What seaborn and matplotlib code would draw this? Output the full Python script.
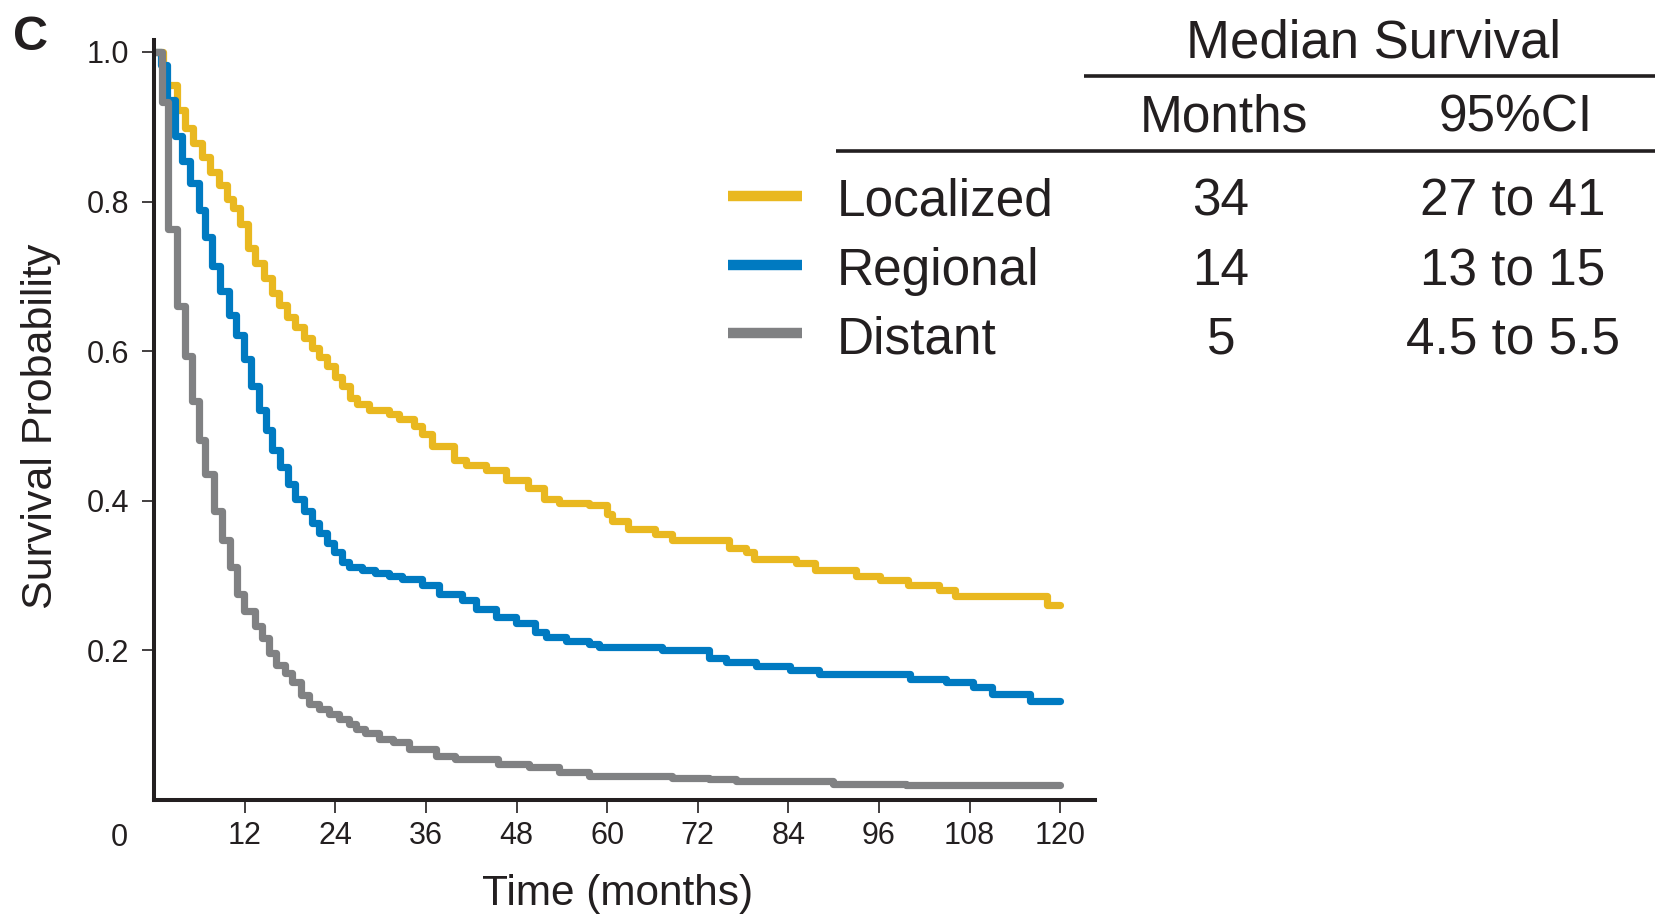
"""Kaplan-Meier survival by stage, with median survival table on the right."""

import numpy as np
import pandas as pd
import matplotlib
matplotlib.use("Agg")
import matplotlib.pyplot as plt
import seaborn as sns
from matplotlib import font_manager

# ---- data ----
groups = ["Localized", "Regional", "Distant"]
colors = ["#E9B820", "#007AC1", "#808183"]
median_months = ["34", "14", "5"]
median_ci = ["27 to 41", "13 to 15", "4.5 to 5.5"]

localized_t = [0, 1.2, 3.0, 4.1, 5.2, 6.3, 7.4, 8.6, 9.7, 10.5,
               11.4, 12.5, 13.4, 14.5, 15.6, 16.5, 17.6, 18.7, 19.8, 20.9,
               21.8, 22.9, 24.0, 24.9, 26.0, 26.9, 28.5, 31.1, 32.4, 34.4,
               35.5, 36.8, 39.7, 41.3, 43.9, 46.6, 49.5, 51.7, 53.6, 57.6,
               60.0, 60.7, 62.7, 66.4, 68.6, 76.2, 78.4, 79.5, 85.0, 87.5,
               93.0, 96.1, 99.8, 104.0, 106.0, 118.2, 120]
localized_s = [1.0, 0.956, 0.922, 0.898, 0.878, 0.859, 0.840, 0.822, 0.803, 0.792,
               0.770, 0.738, 0.718, 0.698, 0.678, 0.662, 0.646, 0.632, 0.617, 0.604,
               0.592, 0.580, 0.566, 0.553, 0.538, 0.530, 0.522, 0.516, 0.509, 0.500,
               0.489, 0.473, 0.455, 0.448, 0.441, 0.428, 0.417, 0.403, 0.397, 0.394,
               0.383, 0.373, 0.362, 0.356, 0.347, 0.337, 0.331, 0.322, 0.317, 0.307,
               0.300, 0.294, 0.287, 0.281, 0.273, 0.261, 0.261]

regional_t = [0, 0.9, 1.7, 2.8, 3.7, 4.8, 5.9, 6.8, 7.7, 8.8,
              9.9, 10.8, 11.9, 12.8, 13.9, 14.8, 15.6, 16.7, 17.8, 18.7,
              19.8, 20.9, 21.8, 22.9, 23.8, 24.9, 25.8, 27.6, 29.3, 31.1,
              32.9, 35.5, 37.7, 40.8, 42.6, 45.3, 47.9, 50.5, 51.9, 54.5,
              57.6, 58.9, 67.3, 73.5, 75.8, 79.7, 84.2, 88.1, 100.1, 104.9,
              108.5, 110.9, 116.0, 120]
regional_s = [1.0, 0.982, 0.936, 0.887, 0.854, 0.825, 0.789, 0.753, 0.714, 0.681,
              0.648, 0.622, 0.589, 0.553, 0.521, 0.494, 0.468, 0.445, 0.423, 0.403,
              0.387, 0.370, 0.357, 0.344, 0.331, 0.318, 0.311, 0.307, 0.303, 0.299,
              0.295, 0.288, 0.276, 0.267, 0.256, 0.245, 0.236, 0.224, 0.218, 0.213,
              0.209, 0.204, 0.200, 0.190, 0.185, 0.179, 0.174, 0.168, 0.162, 0.158,
              0.151, 0.142, 0.132, 0.132]

distant_t = [0, 1.0, 1.9, 3.0, 4.1, 5.0, 5.9, 6.8, 7.9, 9.0,
             10.1, 11.0, 11.9, 13.4, 14.3, 15.2, 16.1, 17.4, 18.3, 19.4,
             20.5, 21.8, 23.2, 24.5, 25.8, 26.7, 28.0, 29.8, 31.6, 33.8,
             37.3, 39.9, 45.6, 49.6, 53.6, 57.6, 68.6, 73.5, 77.1, 89.9,
             99.6, 120]
distant_s = [1.0, 0.933, 0.763, 0.661, 0.593, 0.534, 0.481, 0.436, 0.387, 0.347,
             0.311, 0.275, 0.252, 0.233, 0.216, 0.197, 0.180, 0.170, 0.158, 0.141,
             0.128, 0.122, 0.115, 0.108, 0.102, 0.095, 0.089, 0.082, 0.077, 0.068,
             0.059, 0.055, 0.048, 0.0435, 0.037, 0.032, 0.030, 0.0277, 0.0254, 0.0218,
             0.0197, 0.0197]

x_ticks = [12, 24, 36, 48, 60, 72, 84, 96, 108, 120]
y_ticks = [0.2, 0.4, 0.6, 0.8, 1.0]

# ---- fonts ----
sns.set_style("ticks")
installed = {f.name for f in font_manager.fontManager.ttflist}
NARROW = "Liberation Sans Narrow" if "Liberation Sans Narrow" in installed else None
REGULAR = "Liberation Sans"
plt.rcParams["font.family"] = [NARROW or REGULAR, "DejaVu Sans"]
TXT = "#231F20"

# sizes for axis text depend on whether the condensed face exists
TICK_FS = 24 if NARROW else 22
LABEL_FS = 35 if NARROW else 30.5

df = pd.concat([
    pd.DataFrame({"months": localized_t, "survival": localized_s, "stage": "Localized"}),
    pd.DataFrame({"months": regional_t, "survival": regional_s, "stage": "Regional"}),
    pd.DataFrame({"months": distant_t, "survival": distant_s, "stage": "Distant"}),
], ignore_index=True)

W, H = 1655, 914
fig = plt.figure(figsize=(W / 100, H / 100), dpi=100)
ax = fig.add_axes([154 / W, 1 - 800 / H, (1095 - 154) / W, (800 - 40) / H])

sns.lineplot(data=df, x="months", y="survival", hue="stage", hue_order=groups,
             palette=dict(zip(groups, colors)), estimator=None, sort=False,
             drawstyle="steps-post", linewidth=5.2, legend=False, ax=ax)

ax.set_xlim(0, 124.6)
ax.set_ylim(0, 1.016)
sns.despine(ax=ax)
for side in ["left", "bottom"]:
    ax.spines[side].set_linewidth(2.9)
    ax.spines[side].set_color(TXT)

ax.set_xticks(x_ticks)
ax.set_xticklabels([str(v) for v in x_ticks])
ax.set_yticks(y_ticks)
ax.set_yticklabels([f"{v:.1f}" for v in y_ticks])
ax.tick_params(axis="both", direction="out", length=9, width=1.2, color=TXT,
               labelsize=TICK_FS, labelcolor=TXT)
ax.tick_params(axis="x", pad=6)
ax.tick_params(axis="y", pad=9)
ax.text(-4.6, -0.0303, "0", transform=ax.get_xaxis_transform(), ha="center", va="top",
        fontsize=TICK_FS, color=TXT)

ax.set_xlabel("Time (months)", fontsize=LABEL_FS, color=TXT)
ax.set_ylabel("Survival Probability", fontsize=LABEL_FS + 0.5, color=TXT)
ax.xaxis.set_label_coords(0.493, -0.098)
ax.yaxis.set_label_coords(-0.099, 0.492)

# ---- overlay in pixel coordinates for panel letter and median table ----
ov = fig.add_axes([0, 0, 1, 1])
ov.set_xlim(0, W)
ov.set_ylim(H, 0)
ov.axis("off")

ov.text(13, 50, "C", fontsize=35, fontweight="bold", family=REGULAR, color=TXT,
        ha="left", va="baseline")

ov.text(1373, 58, "Median Survival", fontsize=38, family=REGULAR, color=TXT,
        ha="center", va="baseline")
ov.plot([1084, W], [76, 76], color=TXT, linewidth=2.6, solid_capstyle="butt")
ov.text(1224, 131, "Months", fontsize=37, family=REGULAR, color=TXT,
        ha="center", va="baseline")
ov.text(1516, 131, "95%CI", fontsize=37, family=REGULAR, color=TXT,
        ha="center", va="baseline")
ov.plot([836, W], [151, 151], color=TXT, linewidth=2.6, solid_capstyle="butt")

row_base = [216, 285, 353]
for i, g in enumerate(groups):
    yb = row_base[i]
    ov.plot([728, 802], [yb - 20, yb - 20], color=colors[i], linewidth=7.5, solid_capstyle="butt")
    ov.text(837, yb, g, fontsize=37, family=REGULAR, color=TXT, ha="left", va="baseline")
    ov.text(1221, yb, median_months[i], fontsize=37, family=REGULAR, color=TXT,
            ha="center", va="baseline")
    ov.text(1513, yb, median_ci[i], fontsize=37, family=REGULAR, color=TXT,
            ha="center", va="baseline")

fig.savefig("out.png", dpi=100)
plt.close(fig)
